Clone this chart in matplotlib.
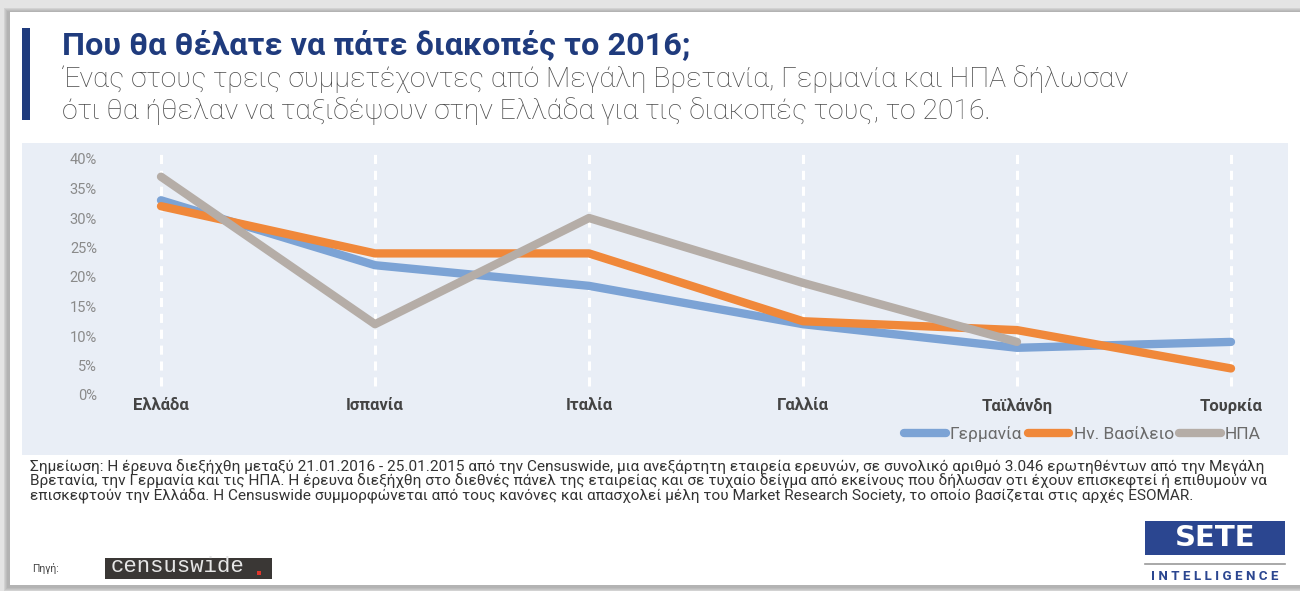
import matplotlib
matplotlib.use("Agg")
import matplotlib.pyplot as plt
from matplotlib.patches import Rectangle
from matplotlib.lines import Line2D
import numpy as np

# --- data -------------------------------------------------------------
countries = ["Ελλάδα", "Ισπανία", "Ιταλία", "Γαλλία", "Ταϊλάνδη", "Τουρκία"]
germany = [33, 22, 18.5, 12, 8, 9]
uk = [32, 24, 24, 12.5, 11, 4.5]
usa = [37, 12, 30, 19, 9, np.nan]
series_names = ["Γερμανία", "Ην. Βασίλειο", "ΗΠΑ"]
y_ticks = [0, 5, 10, 15, 20, 25, 30, 35, 40]
y_tick_labels = ["0%", "5%", "10%", "15%", "20%", "25%", "30%", "35%", "40%"]

title = "Που θα θέλατε να πάτε διακοπές το 2016;"
subtitle = ("Ένας στους τρεις συμμετέχοντες από Μεγάλη Βρετανία, Γερμανία και ΗΠΑ δήλωσαν\n"
            "ότι θα ήθελαν να ταξιδέψουν στην Ελλάδα για τις διακοπές τους, το 2016.")
note_lines = [
    "Σημείωση: Η έρευνα διεξήχθη μεταξύ 21.01.2016 - 25.01.2015 από την Censuswide, μια ανεξάρτητη εταιρεία ερευνών, σε συνολικό αριθμό 3.046 ερωτηθέντων από την Μεγάλη",
    "Βρετανία, την Γερμανία και τις ΗΠΑ. Η έρευνα διεξήχθη στο διεθνές πάνελ της εταιρείας και σε τυχαίο δείγμα από εκείνους που δήλωσαν οτι έχουν επισκεφτεί ή επιθυμούν να",
    "επισκεφτούν την Ελλάδα. Η Censuswide συμμορφώνεται από τους κανόνες και απασχολεί μέλη του Market Research Society, το οποίο βασίζεται στις αρχές ESOMAR.",
]

# --- style -------------------------------------------------------------
W, H = 1300, 591
NAVY = "#1f3b7d"
COLORS = ["#7ca3d5", "#f0883a", "#b5ada7"]
PANEL = "#e9eef6"

plt.rcParams["font.family"] = ["Roboto", "DejaVu Sans"]

fig = plt.figure(figsize=(W / 100, H / 100), dpi=100)
fig.patch.set_facecolor("#e4e4e4")


def fx(x):
    return x / W


def fy(y):
    return 1 - y / H


# card with a soft shadow
for i, a in enumerate([0.12, 0.12, 0.14, 0.16]):
    fig.add_artist(Rectangle((fx(7 - i), fy(588 + i)), fx(1300), fy(11 - i) - fy(588 + i),
                             transform=fig.transFigure, facecolor="#7a7a7a", alpha=a,
                             edgecolor="none", zorder=-3))
fig.add_artist(Rectangle((fx(10), fy(585)), fx(1290), fy(12) - fy(585),
                         transform=fig.transFigure, facecolor="white", edgecolor="none", zorder=-2))

# title block
fig.add_artist(Rectangle((fx(22), fy(120)), fx(8), fy(28) - fy(120),
                         transform=fig.transFigure, facecolor=NAVY, edgecolor="none", zorder=1))
fig.text(fx(62), fy(45), title, fontsize=23.3, fontweight="bold", color=NAVY,
         va="center", ha="left")
fig.text(fx(62), fy(95), subtitle, fontsize=20.4, fontweight="light", color="#4a4a4a",
         va="center", ha="left", linespacing=1.15)

# chart panel
left, right, top, bottom = 22, 1288, 143, 455
ax = fig.add_axes([fx(left), fy(bottom), fx(right - left), fy(top) - fy(bottom)])
ax.set_facecolor(PANEL)
for s in ax.spines.values():
    s.set_visible(False)

x = np.arange(len(countries))
px_per_unit = (1231 - 161) / (len(countries) - 1)
ax.set_xlim(-(161 - left) / px_per_unit, (len(countries) - 1) + (right - 1231) / px_per_unit)
px_per_pct = (395 - 159) / 40
ax.set_ylim(-(bottom - 395) / px_per_pct, 40 + (159 - top) / px_per_pct)

ax.vlines(x, 1.6, 41.2, colors="white", linestyles=(0, (3, 2.2)), linewidth=2.2, zorder=1)

for vals, c, name in zip([germany, uk, usa], COLORS, series_names):
    ax.plot(x, vals, color=c, linewidth=6, solid_capstyle="round",
            solid_joinstyle="round", label=name, zorder=3)

ax.set_yticks(y_ticks)
ax.set_yticklabels(y_tick_labels)
ax.set_xticks(x)
ax.set_xticklabels(countries)
ax.tick_params(axis="y", length=0, pad=-54, labelsize=10.5, labelcolor="#8a8a8a")
ax.tick_params(axis="x", length=0, pad=-41, labelsize=12, labelcolor="#444444")
for lbl in ax.get_xticklabels():
    lbl.set_fontweight("bold")

leg = ax.legend(loc="lower right", bbox_to_anchor=(1.0 - 14 / (right - left), 0.0), ncol=3,
                frameon=False, fontsize=12.5, handlelength=2.4, handletextpad=0.25,
                columnspacing=0.3, borderaxespad=0.35)
for t in leg.get_texts():
    t.set_color("#6a6a6a")

# note
for i, line in enumerate(note_lines):
    fig.text(fx(30), fy(467 + 14.5 * i), line, fontsize=11.1, color="#333333",
             va="center", ha="left")

# source
fig.text(fx(32), fy(568), "Πηγή:", fontsize=7.5, color="#444444",
         va="center", ha="left")
fig.add_artist(Rectangle((fx(105), fy(579)), fx(167), fy(558) - fy(579),
                         transform=fig.transFigure, facecolor="#3a3735", edgecolor="none", zorder=1))
fig.text(fx(111), fy(567), "censuswide", fontsize=16, color="#e6e6e6",
         family=["Liberation Mono", "DejaVu Sans Mono"], va="center", ha="left", zorder=2)
fig.add_artist(Rectangle((fx(257), fy(575)), fx(4), fy(571) - fy(575),
                         transform=fig.transFigure, facecolor="#e0362c", edgecolor="none", zorder=2))

# SETE logo
fig.add_artist(Rectangle((fx(1145), fy(555)), fx(140), fy(521) - fy(555),
                         transform=fig.transFigure, facecolor="#2b4690", edgecolor="none", zorder=1))
fig.text(fx(1215), fy(538.5), "SETE", fontsize=21, fontweight="bold", color="white",
         family=["DejaVu Sans"], va="center", ha="center", zorder=2)
fig.add_artist(Line2D([fx(1145), fx(1285)], [fy(564), fy(564)], transform=fig.transFigure,
                      color="#9a9a9a", linewidth=1.2))
fig.text(fx(1215), fy(577), "I N T E L L I G E N C E", fontsize=9.6, fontweight="bold",
         color="#2b4690", va="center", ha="center")

fig.savefig("out.png", dpi=100, facecolor=fig.get_facecolor())
